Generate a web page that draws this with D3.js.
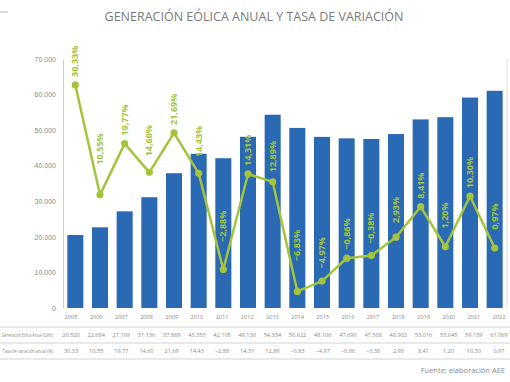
<!DOCTYPE html>
<html>
<head>
<meta charset="utf-8">
<script src="https://cdn.jsdelivr.net/npm/d3@7"></script>
<style>
  body { margin: 0; background: #fff; }
  svg { display: block; font-family: "Open Sans", "Liberation Sans", sans-serif; }
</style>
</head>
<body>
<svg id="chart" width="510" height="382"></svg>
<script>
'use strict';

var years = ['2005', '2006', '2007', '2008', '2009', '2010', '2011', '2012', '2013',
  '2014', '2015', '2016', '2017', '2018', '2019', '2020', '2021', '2022']
var generation = [20520, 22684, 27169, 31136, 37889, 43355, 42105, 48130, 54334,
  50622, 48106, 47690, 47508, 48902, 53016, 53645, 59159, 61069]
var rate = [30.33, 10.55, 19.77, 14.60, 21.69, 14.43, -2.88, 14.31, 12.89,
  -6.83, -4.97, -0.86, -0.38, 2.93, 8.41, 1.20, 10.30, 0.97]
var yTicks = [0, 10000, 20000, 30000, 40000, 50000, 60000, 70000]

var blue = '#2a69b4'
var green = '#a4c43c'
var grey = '#8a8a8a'

var svg = d3.select('#chart')
var plotLeft = 63, plotRight = 507, plotTop = 59, plotBottom = 308

var x = d3.scaleBand().domain(years).range([plotLeft, plotRight]).paddingInner(0.35).paddingOuter(0.175)
var y = d3.scaleLinear().domain([0, 70000]).range([plotBottom, plotTop])
var y2 = d3.scaleLinear().domain([-10, 35]).range([plotBottom + 1, plotTop])
// table columns are spread a little wider than the bars
var col = d3.scalePoint().domain(years).range([71, 499])

var locale = d3.formatLocale({ decimal: ',', thousands: '.', grouping: [3], currency: ['', ''] })
var fmtInt = locale.format(',d')
var fmtDec = locale.format('.2f')

// title
svg.append('line')
  .attr('x1', 0).attr('x2', 8).attr('y1', 12).attr('y2', 12)
  .attr('stroke', '#bbb').attr('stroke-width', 1)

svg.append('text')
  .attr('x', 254).attr('y', 21)
  .attr('text-anchor', 'middle')
  .attr('font-size', 12.5)
  .attr('fill', '#7a7a7a')
  .text('GENERACIÓN EÓLICA ANUAL Y TASA DE VARIACIÓN')

// axes
var yAxis = svg.append('g')
  .attr('transform', 'translate(' + plotLeft + ',0)')
  .call(d3.axisLeft(y).tickValues(yTicks).tickSize(0).tickPadding(7).tickFormat(fmtInt))
yAxis.select('.domain').attr('stroke', '#ccc')
yAxis.selectAll('text').attr('fill', grey).attr('font-size', 7)

svg.append('line')
  .attr('x1', plotRight).attr('x2', plotRight).attr('y1', plotTop).attr('y2', plotBottom)
  .attr('stroke', '#ddd')

// bars
svg.append('g').selectAll('rect')
  .data(generation)
  .enter().append('rect')
  .attr('x', function(d, i) { return x(years[i]) })
  .attr('y', function(d) { return y(d) })
  .attr('width', x.bandwidth())
  .attr('height', function(d) { return y(0) - y(d) })
  .attr('fill', blue)

// rate line
var cx = function(i) { return x(years[i]) + x.bandwidth() / 2 }
var step = x.step()
var line = d3.line()
  .x(function(d, i) { return cx(i) })
  .y(function(d) { return y2(d) })

svg.append('path')
  .datum(rate)
  .attr('d', line)
  .attr('fill', 'none')
  .attr('stroke', green)
  .attr('stroke-width', 2.5)
  .attr('stroke-linejoin', 'round')

svg.append('g').selectAll('circle')
  .data(rate)
  .enter().append('circle')
  .attr('cx', function(d, i) { return cx(i) })
  .attr('cy', function(d) { return y2(d) })
  .attr('r', 3.6)
  .attr('fill', green)

// keep each label clear of the line segments next to its point
function labelBottom(d, i) {
  var py = y2(d)
  var bottomY = py - 8
  var dx = 5
  if (i > 0) {
    var ly = py + (y2(rate[i - 1]) - py) * dx / step
    bottomY = Math.min(bottomY, ly - 8)
  }
  if (i < rate.length - 1) {
    var ry = py + (y2(rate[i + 1]) - py) * dx / step
    bottomY = Math.min(bottomY, ry - 8)
  }
  return bottomY
}

svg.append('g').selectAll('text')
  .data(rate)
  .enter().append('text')
  .attr('transform', function(d, i) {
    return 'translate(' + (cx(i) + 3) + ',' + labelBottom(d, i) + ') rotate(-90)'
  })
  .attr('font-size', 9)
  .attr('font-weight', 'bold')
  .attr('fill', green)
  .text(function(d) { return fmtDec(d) + '%' })

// table
var rowLines = [327, 343, 359]
svg.append('g').selectAll('line')
  .data(rowLines)
  .enter().append('line')
  .attr('x1', 0).attr('x2', 510)
  .attr('y1', function(d) { return d }).attr('y2', function(d) { return d })
  .attr('stroke', '#c8c8c8').attr('stroke-width', 0.8)

var table = svg.append('g').attr('fill', grey).attr('font-size', 5.6)

table.selectAll('.year')
  .data(years)
  .enter().append('text')
  .attr('class', 'year')
  .attr('x', function(d) { return col(d) })
  .attr('y', 319)
  .attr('text-anchor', 'middle')
  .text(function(d) { return d })

table.selectAll('.gen')
  .data(generation)
  .enter().append('text')
  .attr('class', 'gen')
  .attr('x', function(d, i) { return col(years[i]) })
  .attr('y', 337)
  .attr('text-anchor', 'middle')
  .text(function(d) { return fmtInt(d) })

table.selectAll('.rate')
  .data(rate)
  .enter().append('text')
  .attr('class', 'rate')
  .attr('x', function(d, i) { return col(years[i]) })
  .attr('y', 353)
  .attr('text-anchor', 'middle')
  .text(function(d) { return fmtDec(d) })

// row headers are condensed and run off the left edge, as in the source
table.append('text')
  .attr('transform', 'translate(53,337) scale(0.64,1)')
  .attr('text-anchor', 'end')
  .text('Generación Eólica Anual  (GWh)')

table.append('text')
  .attr('transform', 'translate(53,353) scale(0.72,1)')
  .attr('text-anchor', 'end')
  .text('Tasa de variación anual (%)')

svg.append('text')
  .attr('x', 505).attr('y', 373)
  .attr('text-anchor', 'end')
  .attr('font-size', 7.5)
  .attr('fill', grey)
  .text('Fuente: elaboración AEE')
</script>
</body>
</html>
